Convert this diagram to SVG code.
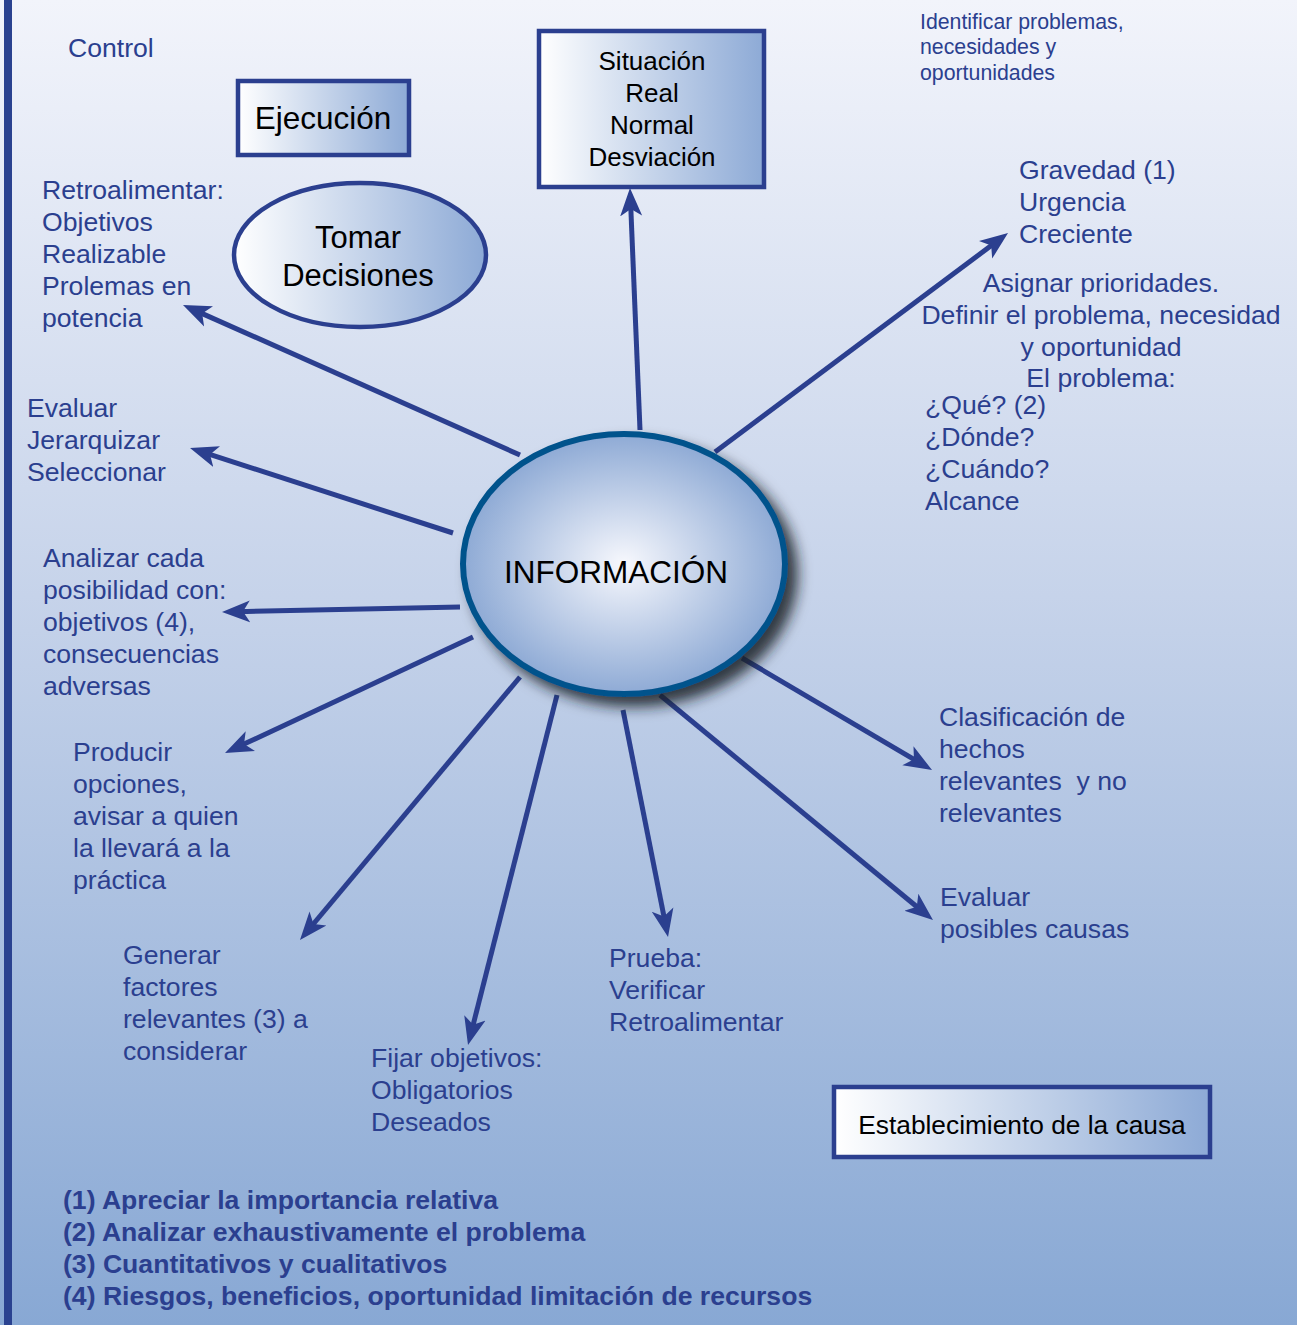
<svg xmlns="http://www.w3.org/2000/svg" width="1297" height="1325" viewBox="0 0 1297 1325">
  <defs>
    <linearGradient id="bg" x1="0" y1="0" x2="0" y2="1">
      <stop offset="0" stop-color="#f2f4fb"/>
      <stop offset="0.45" stop-color="#c6d3ea"/>
      <stop offset="1" stop-color="#88a8d4"/>
    </linearGradient>
    <linearGradient id="boxFill" x1="0" y1="0" x2="1" y2="0">
      <stop offset="0" stop-color="#ffffff"/>
      <stop offset="1" stop-color="#8daad6"/>
    </linearGradient>
    <radialGradient id="hubFill" cx="0.5" cy="0.5" r="0.5">
      <stop offset="0" stop-color="#f7f8fd"/>
      <stop offset="1" stop-color="#8eaad5"/>
    </radialGradient>
    <filter id="shadow" x="-20%" y="-20%" width="150%" height="150%">
      <feDropShadow dx="10" dy="10" stdDeviation="7" flood-color="#141a28" flood-opacity="0.85"/>
    </filter>
    <marker id="arrow" viewBox="0 -12 30 24" markerWidth="30" markerHeight="24" refX="13" refY="0" orient="auto" markerUnits="userSpaceOnUse">
      <path d="M0,-11 L28,0 L0,11 L7,0 Z" fill="#2b3f8f"/>
    </marker>
    <style>
      .lbl { font-family: "Liberation Sans", Arial, sans-serif; font-size: 26.6px; fill: #2b3f8f; }
      .small { font-family: "Liberation Sans", Arial, sans-serif; font-size: 21.3px; fill: #2b3f8f; }
      .note { font-family: "Liberation Sans", Arial, sans-serif; font-size: 26.6px; font-weight: bold; fill: #2b3f8f; }
      .dark { font-family: "Liberation Sans", Arial, sans-serif; fill: #000000; text-anchor: middle; }
      .box { fill: url(#boxFill); stroke: #2b3f8f; stroke-width: 4.5; }
      .conn { stroke: #2b3f8f; stroke-width: 5; fill: none; marker-end: url(#arrow); }
    </style>
  </defs>

  <!-- page background and left rule -->
  <rect x="0" y="0" width="1297" height="1325" fill="url(#bg)"/>
  <rect x="4" y="0" width="8" height="1325" fill="#2a4290"/>

  <!-- connectors radiating from the hub -->
  <g id="connectors">
    <line class="conn" x1="640" y1="430" x2="630.6" y2="203"/>
    <line class="conn" x1="715" y1="452" x2="996" y2="242"/>
    <line class="conn" x1="520" y1="455" x2="196.7" y2="311.1"/>
    <line class="conn" x1="453" y1="533" x2="204.3" y2="452.6"/>
    <line class="conn" x1="460" y1="607" x2="237" y2="611.7"/>
    <line class="conn" x1="473" y1="637" x2="238.6" y2="746.6"/>
    <line class="conn" x1="520" y1="677" x2="309.6" y2="928.5"/>
    <line class="conn" x1="557" y1="695" x2="471.7" y2="1030.5"/>
    <line class="conn" x1="623" y1="710" x2="665.1" y2="922.3"/>
    <line class="conn" x1="660" y1="695" x2="921.4" y2="910.5"/>
    <line class="conn" x1="742" y1="658" x2="919.1" y2="762.4"/>
  </g>

  <!-- central hub -->
  <g id="informacion">
    <ellipse cx="624" cy="564" rx="161" ry="130" fill="url(#hubFill)" stroke="#06528c" stroke-width="6" filter="url(#shadow)"/>
    <text class="dark" x="616" y="583" font-size="31.5">INFORMACIÓN</text>
  </g>

  <g id="situacion">
    <rect class="box" x="539" y="31" width="225" height="156"/>
    <text class="dark" font-size="26" x="652" y="70">Situación</text>
    <text class="dark" font-size="26" x="652" y="102">Real</text>
    <text class="dark" font-size="26" x="652" y="134">Normal</text>
    <text class="dark" font-size="26" x="652" y="166">Desviación</text>
  </g>

  <g id="ejecucion">
    <rect class="box" x="238" y="81" width="171" height="74"/>
    <text class="dark" font-size="31.5" x="323" y="129">Ejecución</text>
  </g>

  <g id="tomar-decisiones">
    <ellipse cx="360" cy="255" rx="126" ry="72" fill="url(#boxFill)" stroke="#2b3f8f" stroke-width="4.5"/>
    <text class="dark" font-size="31" x="358" y="248">Tomar</text>
    <text class="dark" font-size="31" x="358" y="286">Decisiones</text>
  </g>

  <g id="establecimiento">
    <rect class="box" x="834" y="1087" width="376" height="70"/>
    <text class="dark" font-size="26.3" x="1022" y="1134">Establecimiento de la causa</text>
  </g>

  <g id="control">
    <text class="lbl" x="68" y="57">Control</text>
  </g>

  <g id="identificar">
    <text class="small" x="920" y="29">Identificar problemas,</text>
    <text class="small" x="920" y="54">necesidades y</text>
    <text class="small" x="920" y="80">oportunidades</text>
  </g>

  <g id="gravedad">
    <text class="lbl" x="1019" y="179">Gravedad (1)</text>
    <text class="lbl" x="1019" y="211">Urgencia</text>
    <text class="lbl" x="1019" y="243">Creciente</text>
  </g>

  <g id="asignar">
    <text class="lbl" text-anchor="middle" x="1101" y="292">Asignar prioridades.</text>
    <text class="lbl" text-anchor="middle" x="1101" y="324">Definir el problema, necesidad</text>
    <text class="lbl" text-anchor="middle" x="1101" y="356">y oportunidad</text>
    <text class="lbl" text-anchor="middle" x="1101" y="387">El problema:</text>
    <text class="lbl" x="925" y="414">¿Qué? (2)</text>
    <text class="lbl" x="925" y="446">¿Dónde?</text>
    <text class="lbl" x="925" y="478">¿Cuándo?</text>
    <text class="lbl" x="925" y="510">Alcance</text>
  </g>

  <g id="retroalimentar">
    <text class="lbl" x="42" y="199">Retroalimentar:</text>
    <text class="lbl" x="42" y="231">Objetivos</text>
    <text class="lbl" x="42" y="263">Realizable</text>
    <text class="lbl" x="42" y="295">Prolemas en</text>
    <text class="lbl" x="42" y="327">potencia</text>
  </g>

  <g id="evaluar">
    <text class="lbl" x="27" y="417">Evaluar</text>
    <text class="lbl" x="27" y="449">Jerarquizar</text>
    <text class="lbl" x="27" y="481">Seleccionar</text>
  </g>

  <g id="analizar">
    <text class="lbl" x="43" y="567">Analizar cada</text>
    <text class="lbl" x="43" y="599">posibilidad con:</text>
    <text class="lbl" x="43" y="631">objetivos (4),</text>
    <text class="lbl" x="43" y="663">consecuencias</text>
    <text class="lbl" x="43" y="695">adversas</text>
  </g>

  <g id="producir">
    <text class="lbl" x="73" y="761">Producir</text>
    <text class="lbl" x="73" y="793">opciones,</text>
    <text class="lbl" x="73" y="825">avisar a quien</text>
    <text class="lbl" x="73" y="857">la llevará a la</text>
    <text class="lbl" x="73" y="889">práctica</text>
  </g>

  <g id="generar">
    <text class="lbl" x="123" y="964">Generar</text>
    <text class="lbl" x="123" y="996">factores</text>
    <text class="lbl" x="123" y="1028">relevantes (3) a</text>
    <text class="lbl" x="123" y="1060">considerar</text>
  </g>

  <g id="fijar">
    <text class="lbl" x="371" y="1067">Fijar objetivos:</text>
    <text class="lbl" x="371" y="1099">Obligatorios</text>
    <text class="lbl" x="371" y="1131">Deseados</text>
  </g>

  <g id="prueba">
    <text class="lbl" x="609" y="967">Prueba:</text>
    <text class="lbl" x="609" y="999">Verificar</text>
    <text class="lbl" x="609" y="1031">Retroalimentar</text>
  </g>

  <g id="evaluar-causas">
    <text class="lbl" x="940" y="906">Evaluar</text>
    <text class="lbl" x="940" y="938">posibles causas</text>
  </g>

  <g id="clasificacion">
    <text class="lbl" x="939" y="726">Clasificación de</text>
    <text class="lbl" x="939" y="758">hechos</text>
    <text class="lbl" x="939" y="790" xml:space="preserve">relevantes  y no</text>
    <text class="lbl" x="939" y="822">relevantes</text>
  </g>

  <g id="notas">
    <text class="note" x="63" y="1209">(1) Apreciar la importancia relativa</text>
    <text class="note" x="63" y="1241">(2) Analizar exhaustivamente el problema</text>
    <text class="note" x="63" y="1273">(3) Cuantitativos y cualitativos</text>
    <text class="note" x="63" y="1305">(4) Riesgos, beneficios, oportunidad limitación de recursos</text>
  </g>
</svg>
